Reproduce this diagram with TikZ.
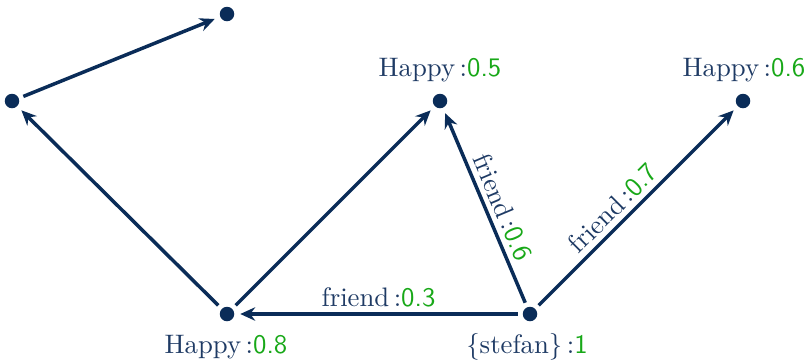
\documentclass[tikz,border=0pt]{standalone}
\usetikzlibrary{arrows.meta}
\definecolor{navy}{RGB}{10,44,88}
\definecolor{txtblue}{RGB}{30,58,100}
\definecolor{valgreen}{RGB}{24,168,24}
\tikzset{
  dot/.style={circle,fill=navy,inner sep=0pt,minimum size=5.8pt},
  edge/.style={draw=navy,line width=1.4pt,-{Stealth[length=6pt,width=5.4pt,inset=2pt]},shorten >=2.2pt,shorten <=1.8pt},
  lbl/.style={text=txtblue,font=\fontsize{10.7}{13}\selectfont,inner sep=1pt},
  elbl/.style={text=txtblue,font=\fontsize{10.7}{13}\selectfont,sloped,above,inner sep=2pt}
}
\newcommand{\val}[1]{\textcolor{valgreen}{\textsf{#1}}}
\begin{document}
\begin{tikzpicture}[x=0.4pt,y=-0.4pt]
\useasboundingbox (0,0) rectangle (807,362);
\node[dot] (a) at (227,14) {};
\node[dot] (b) at (12,101) {};
\node[dot] (c) at (440,101) {};
\node[dot] (d) at (743,101) {};
\node[dot] (e) at (227,314) {};
\node[dot] (f) at (530,314) {};
\node[lbl] (lc) at (440,70) {Happy\,:\val{0.5}};
\node[lbl] (ld) at (744,70) {Happy\,:\val{0.6}};
\node[lbl] (le) at (226,347) {Happy\,:\val{0.8}};
\node[lbl] (lf) at (527,347) {\{stefan\}\,:\val{1}};
\draw[edge] (b) -- (a);
\draw[edge] (e) -- (b);
\draw[edge] (e) -- (c);
\draw[edge] (f) -- node[elbl] (l3) {friend\,:\val{0.3}} (e);
\draw[edge] (f) -- node[elbl,pos=0.47] (l6) {friend\,:\val{0.6}} (c);
\draw[edge] (f) -- node[elbl,pos=0.44] (l7) {friend\,:\val{0.7}} (d);
\end{tikzpicture}
\end{document}
